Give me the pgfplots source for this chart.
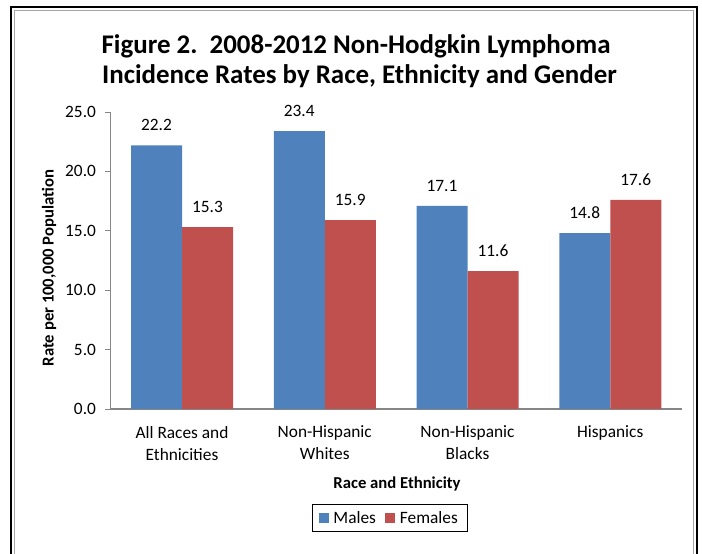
\documentclass[border=0pt]{standalone}
\usepackage{pgfplots}
\pgfplotsset{compat=1.18}
\usepackage{fontspec}
\setmainfont{Carlito}
\definecolor{cblue}{HTML}{4F81BD}
\definecolor{cred}{HTML}{C0504D}
\definecolor{axgray}{HTML}{868686}
\begin{document}
\begin{tikzpicture}
\begin{axis}[
  scale only axis, width=428.25pt, height=222.75pt,
  ybar=0pt, bar width=38.25pt,
  xmin=-0.5, xmax=3.5, ymin=0, ymax=25,
  xtick=data,
  xticklabels={{All Races and\\Ethnicities},{Non-Hispanic\\Whites},{Non-Hispanic\\Blacks},{Hispanics}},
  x tick label style={align=center, font=\fontsize{13}{16.5}\selectfont, yshift=-4.75pt},
  major x tick style={draw=none},
  ytick={0,5,10,15,20,25},
  yticklabel style={font=\fontsize{13}{15}\selectfont, xshift=-3pt},
  /pgf/number format/assume math mode=true,
  yticklabel={\pgfmathprintnumber[fixed,fixed zerofill,precision=1]{\tick}},
  tick align=outside, major tick length=4.5pt,
  axis x line*=bottom, axis y line*=left,
  axis line style={axgray, line width=0.8pt},
  every tick/.style={axgray, line width=0.6pt},
  y axis line style={-}, x axis line style={-},
  nodes near coords={\pgfmathprintnumber[fixed,fixed zerofill,precision=1]{\pgfplotspointmeta}},
  nodes near coords style={font=\fontsize{13}{15}\selectfont, black, anchor=south, inner sep=0pt, yshift=10.5pt},
  legend style={at={(0.4886,-0.367)}, anchor=center, draw=black, line width=0.6pt, legend columns=2,
    font=\fontsize{13}{15}\selectfont, inner xsep=5pt, inner ysep=3pt,
    /tikz/every odd column/.append style={column sep=1.5pt},
    /tikz/every even column/.append style={column sep=5pt}},
  legend image code/.code={\fill[#1] (0pt,-3.8pt) rectangle (7.5pt,3.8pt);},
  clip=false,
]
\addplot[fill=cblue, draw=none] coordinates {(0,22.2) (1,23.4) (2,17.1) (3,14.8)};
\addplot[fill=cred, draw=none] coordinates {(0,15.3) (1,15.9) (2,11.6) (3,17.6)};
\legend{Males,Females}
% page frame and texts, placed in axis coordinates (1 px = 0.75 pt)
\path[use as bounding box] (axis cs:-1.2750,34.428) rectangle (axis cs:3.6427,-12.205);
\draw[black,line width=0.9pt] (axis cs:-1.1979,-12.6) -- (axis cs:-1.1979,33.838) -- (axis cs:3.6077,33.838) -- (axis cs:3.6077,-12.6);
\draw[gray!70,line width=0.6pt] (axis cs:-1.1734,-12.6) -- (axis cs:-1.1734,33.544) -- (axis cs:3.5832,33.544) -- (axis cs:3.5832,-12.6);
\node[font=\fontsize{20.2}{24}\selectfont\bfseries] at (axis cs:1.2189,30.556) {Figure 2.\ \ 2008-2012 Non-Hodgkin Lymphoma};
\node[font=\fontsize{20.2}{24}\selectfont\bfseries] at (axis cs:1.2434,28.030) {Incidence Rates by Race, Ethnicity and Gender};
\node[font=\fontsize{12.5}{15}\selectfont\bfseries,rotate=90] at (axis cs:-0.9317,11.869) {Rate per 100,000 Population};
\node[font=\fontsize{12.5}{15}\selectfont\bfseries] at (axis cs:1.5061,-6.313) {Race and Ethnicity};
\end{axis}
\end{tikzpicture}
\end{document}
